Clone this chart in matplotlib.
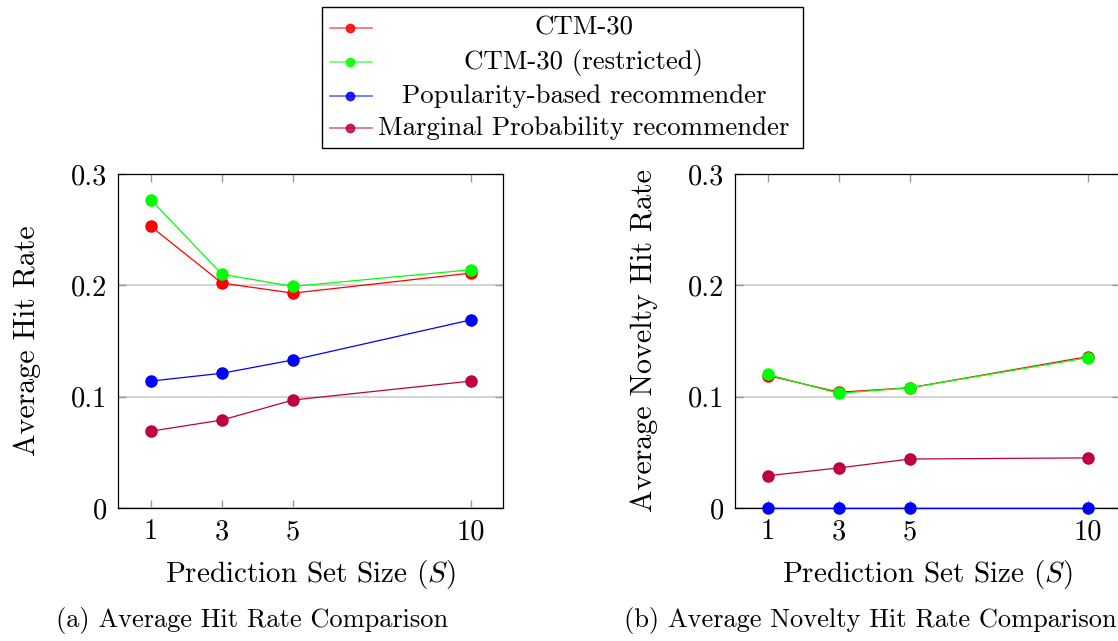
import matplotlib
matplotlib.use("Agg")
import matplotlib.pyplot as plt
from matplotlib.lines import Line2D
from matplotlib.patches import Rectangle

plt.rcParams['font.family'] = ['cmr10', 'DejaVu Serif']
plt.rcParams['mathtext.fontset'] = 'cm'
plt.rcParams['axes.unicode_minus'] = False
plt.rcParams['axes.formatter.use_mathtext'] = True

# data
set_sizes = [1, 3, 5, 10]
series_names = ["CTM-30", "CTM-30 (restricted)",
                "Popularity-based recommender", "Marginal Probability recommender"]
series_colors = ["#ff0000", "#00ff00", "#0000ff", "#bf0040"]

hit_ctm = [0.253, 0.202, 0.193, 0.211]
hit_ctm_restricted = [0.277, 0.210, 0.199, 0.214]
hit_popularity = [0.114, 0.121, 0.133, 0.169]
hit_marginal = [0.069, 0.079, 0.097, 0.114]

nov_ctm = [0.119, 0.104, 0.108, 0.136]
nov_ctm_restricted = [0.120, 0.103, 0.108, 0.135]
nov_popularity = [0.0, 0.0, 0.0, 0.0]
nov_marginal = [0.029, 0.036, 0.044, 0.045]

y_ticks = [0, 0.1, 0.2, 0.3]
y_tick_labels = ["0", "0.1", "0.2", "0.3"]

W, H = 1118, 641
fig = plt.figure(figsize=(W / 100, H / 100), dpi=100)


def style_axes(ax, ylabel):
    ax.set_xlim(0.08, 10.9)
    ax.set_ylim(0, 0.3)
    ax.set_xticks(set_sizes)
    ax.set_xticklabels([str(s) for s in set_sizes])
    ax.set_yticks(y_ticks)
    ax.set_yticklabels(y_tick_labels)
    ax.tick_params(direction='in', length=6, width=1, color='#999999',
                   top=True, right=True, labelsize=20.5, pad=8)
    ax.yaxis.grid(True, color='#cccccc', linewidth=1.2)
    ax.set_axisbelow(True)
    for sp in ax.spines.values():
        sp.set_linewidth(0.9)
    ax.set_xlabel(r'Prediction Set Size ($S$)', fontsize=21, labelpad=9)
    ax.set_ylabel(ylabel, fontsize=21.5, labelpad=21)


ax1 = fig.add_axes([118 / W, 1 - 508 / H, 385 / W, 334 / H])
ax2 = fig.add_axes([735 / W, 1 - 508 / H, 385 / W, 334 / H])

left_series = [hit_ctm, hit_ctm_restricted, hit_popularity, hit_marginal]
right_series = [nov_ctm, nov_ctm_restricted, nov_popularity, nov_marginal]

# markers sit on top of the spines, as in the pgfplots original
for vals, col in zip(left_series, series_colors):
    ax1.plot(set_sizes, vals, color=col, marker='o', markersize=8,
             linewidth=0.9, clip_on=False, zorder=3)
for vals, col in zip(right_series, series_colors):
    ax2.plot(set_sizes, vals, color=col, marker='o', markersize=8,
             linewidth=0.9, clip_on=False, zorder=3)

style_axes(ax1, 'Average Hit Rate')
style_axes(ax2, 'Average Novelty Hit Rate')

# captions
fig.text(252 / W, 1 - 620 / H, '(a) Average Hit Rate Comparison',
         ha='center', va='center', fontsize=19)
fig.text(870 / W, 1 - 620 / H, '(b) Average Novelty Hit Rate Comparison',
         ha='center', va='center', fontsize=19)

# shared legend box, text centred like the pgfplots one
lax = fig.add_axes([322 / W, 1 - 148 / H, 481 / W, 141 / H])
lax.set_xlim(0, 481)
lax.set_ylim(141, 0)
lax.axis('off')
lax.add_patch(Rectangle((0, 0), 481, 141, fill=False, edgecolor='black',
                        linewidth=1.0, clip_on=False))
row_y = [21, 55, 89, 121]
for name, col, y in zip(series_names, series_colors, row_y):
    lax.add_line(Line2D([8, 50], [y, y], color=col, alpha=0.6, linewidth=1.2))
    lax.plot([28], [y], marker='o', markersize=6, color=col, alpha=0.85)
    lax.text(262, y, name, ha='center', va='center', fontsize=19.3)

fig.savefig('out.png', dpi=100)
